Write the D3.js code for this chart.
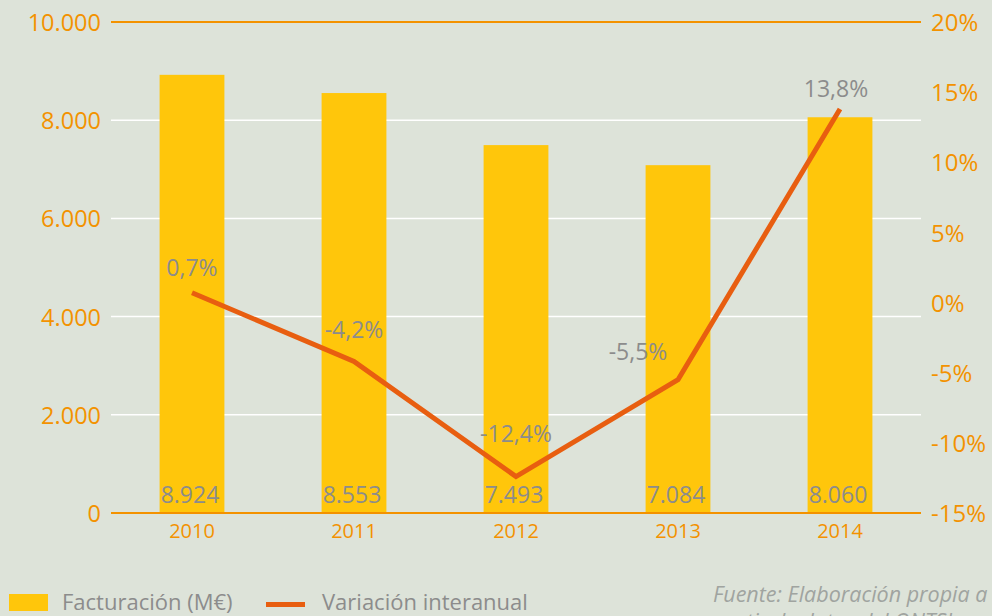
<!DOCTYPE html>
<html><head><meta charset="utf-8">
<script src="https://cdn.jsdelivr.net/npm/d3@7/dist/d3.min.js"></script>
<style>
html,body{margin:0;padding:0;background:#dde3d9;overflow:hidden}
svg{display:block}
text{font-family:"Open Sans","Noto Sans",sans-serif}
</style></head><body>
<svg id="c" width="992" height="616"></svg>
<script>
const years = ["2010","2011","2012","2013","2014"];
const facturacion = [8924, 8553, 7493, 7084, 8060];
const facturacionLabels = ["8.924","8.553","7.493","7.084","8.060"];
const variacion = [0.7, -4.2, -12.4, -5.5, 13.8];
const variacionLabels = ["0,7%","-4,2%","-12,4%","-5,5%","13,8%"];
const leftTicks = [0, 2000, 4000, 6000, 8000, 10000];
const leftTickLabels = ["0","2.000","4.000","6.000","8.000","10.000"];
const rightTicks = [-15, -10, -5, 0, 5, 10, 15, 20];
const rightTickLabels = ["-15%","-10%","-5%","0%","5%","10%","15%","20%"];
const legendLabels = ["Facturación (M€)", "Variación interanual"];
const sourceLines = ["Fuente: Elaboración propia a", "partir de datos del ONTSI"];

// label placement tweaks (style)
const lblDx = [0, 0, 0, -40, -4];
const lblDy = [-17, -23, -35, -20, -12];

const ORANGE = "#f39200", BAR = "#ffc60b", LINE = "#e85e10", GREY = "#8c8c8c";
const svg = d3.select("#c");
const L = 111, R = 921, T = 22, B = 513;

const x = d3.scaleBand().domain(years).range([L, R]).paddingInner(0.6).paddingOuter(0.3);
const y = d3.scaleLinear().domain([0, 10000]).range([B, T]);
const y2 = d3.scaleLinear().domain([-15, 20]).range([B, T]);

// gridlines
svg.append("g").selectAll("line").data(leftTicks.filter(d => d > 0 && d < 10000)).join("line")
  .attr("x1", L).attr("x2", R).attr("y1", d => y(d)).attr("y2", d => y(d))
  .attr("stroke", "#ffffff").attr("stroke-width", 1.5);

// bars
svg.append("g").selectAll("rect").data(facturacion).join("rect")
  .attr("x", (d, i) => x(years[i])).attr("width", x.bandwidth())
  .attr("y", d => y(d)).attr("height", d => y(0) - y(d))
  .attr("fill", BAR);

// top & bottom lines
[10000, 0].forEach(v => svg.append("line").attr("x1", L).attr("x2", R)
  .attr("y1", y(v)).attr("y2", y(v)).attr("stroke", ORANGE).attr("stroke-width", 2));

// left axis
const la = svg.append("g").attr("transform", `translate(${L - 10},0)`)
  .call(d3.axisLeft(y).tickValues(leftTicks).tickSize(0).tickPadding(0)
    .tickFormat((d, i) => leftTickLabels[i]));
la.select(".domain").remove();
la.selectAll("text").attr("fill", ORANGE).style("font-size", "23.5px").attr("dy", "0.36em");

// right axis
const ra = svg.append("g").attr("transform", `translate(${R + 10},0)`)
  .call(d3.axisRight(y2).tickValues(rightTicks).tickSize(0).tickPadding(0)
    .tickFormat((d, i) => rightTickLabels[i]));
ra.select(".domain").remove();
ra.selectAll("text").attr("fill", ORANGE).style("font-size", "24px").attr("dy", "0.36em");

// bottom axis
const ba = svg.append("g").attr("transform", `translate(0,${B})`)
  .call(d3.axisBottom(x).tickSize(0).tickPadding(11));
ba.select(".domain").remove();
ba.selectAll("text").attr("fill", ORANGE).style("font-size", "20px");

// bar value labels
svg.append("g").selectAll("text").data(facturacionLabels).join("text")
  .attr("x", (d, i) => x(years[i]) + x.bandwidth() / 2 - 2)
  .attr("y", B - 10)
  .attr("text-anchor", "middle").attr("fill", GREY).style("font-size", "23px")
  .text(d => d);

// line
const cx = i => x(years[i]) + x.bandwidth() / 2;
svg.append("path").datum(variacion)
  .attr("d", d3.line().x((d, i) => cx(i)).y(d => y2(d)))
  .attr("fill", "none").attr("stroke", LINE).attr("stroke-width", 5);

// line labels
svg.append("g").selectAll("text").data(variacionLabels).join("text")
  .attr("x", (d, i) => cx(i) + lblDx[i])
  .attr("y", (d, i) => y2(variacion[i]) + lblDy[i])
  .attr("text-anchor", "middle").attr("fill", GREY).style("font-size", "23px")
  .text(d => d);

// legend
svg.append("rect").attr("x", 9).attr("y", 594).attr("width", 39).attr("height", 17).attr("fill", BAR);
svg.append("text").attr("x", 62).attr("y", 610).attr("fill", GREY).style("font-size", "22px").text(legendLabels[0]);
svg.append("line").attr("x1", 266).attr("x2", 305).attr("y1", 604.5).attr("y2", 604.5)
  .attr("stroke", LINE).attr("stroke-width", 5);
svg.append("text").attr("x", 322).attr("y", 610).attr("fill", GREY).style("font-size", "22px").text(legendLabels[1]);

// source
svg.append("g").selectAll("text").data(sourceLines).join("text")
  .attr("x", 713).attr("y", (d, i) => 602 + i * 27)
  .attr("fill", "#a0a4a0").style("font-size", "21.5px").style("font-style", "italic")
  .text(d => d);
</script>
</body></html>
